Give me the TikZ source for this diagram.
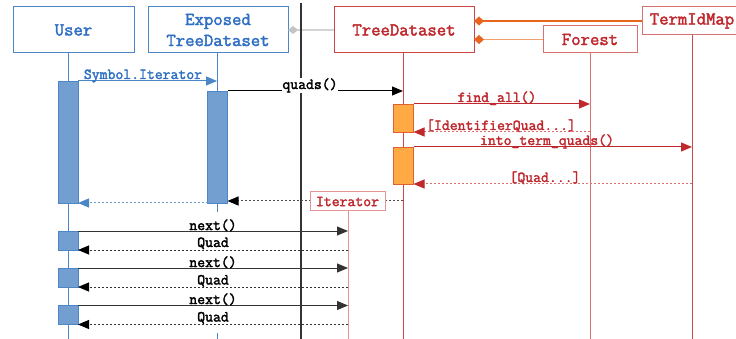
\documentclass[tikz,border=0pt]{standalone}
\usepackage{fontspec}
\setmonofont{Latin Modern Mono}[AutoFakeBold=2.2]
\usetikzlibrary{arrows.meta}
\definecolor{bbord}{HTML}{4A86C8}
\definecolor{btext}{HTML}{2F6FC4}
\definecolor{bfill}{HTML}{729FCF}
\definecolor{rbord}{HTML}{CC4444}
\definecolor{rtext}{HTML}{C0282D}
\definecolor{rline}{HTML}{C84848}
\definecolor{rlight}{HTML}{D87070}
\definecolor{rpink}{HTML}{E49494}
\definecolor{ofill}{HTML}{FFAA44}
\definecolor{obord}{HTML}{E06030}
\definecolor{odark}{HTML}{E8651E}
\definecolor{olight}{HTML}{F2A070}
\definecolor{gline}{HTML}{D4D4D4}
\definecolor{gdia}{HTML}{C4C4C4}
\begin{document}
\begin{tikzpicture}[x=1pt,y=-1pt,
  hdrfont/.style={font=\ttfamily\bfseries\fontsize{18.2}{21}\selectfont},
  msgfont/.style={font=\ttfamily\bfseries\fontsize{15.3}{17}\selectfont},
  hdrblue/.style={draw=bbord,line width=1pt,text=btext,hdrfont,inner sep=0pt,outer sep=0pt,fill=white},
  hdrred/.style={draw=rbord,line width=1pt,text=rtext,hdrfont,inner sep=0pt,outer sep=0pt,fill=white},
  actblue/.style={draw=bbord,fill=bfill,line width=0.8pt,inner sep=0pt,outer sep=0pt,minimum width=20pt},
  actorange/.style={draw=obord,fill=ofill,line width=0.8pt,inner sep=0pt,outer sep=0pt,minimum width=20pt},
  tip/.style={-{Triangle[length=11pt,width=9pt]}},
  lbl/.style={msgfont,anchor=base,inner sep=0pt},
  dotline/.style={dash pattern=on 2pt off 2pt}
]
\useasboundingbox (0,0) rectangle (736,339);
\clip (0,0) rectangle (736,339);

% lifeline coordinates
\coordinate (uL) at (68,53);   \coordinate (uLb) at (68,339);
\coordinate (eL) at (217,53);
\coordinate (tL) at (403,53);  \coordinate (tLb) at (403,339);
\coordinate (fL) at (590,53);  \coordinate (fLb) at (590,339);
\coordinate (mL) at (692,35);  \coordinate (mLb) at (692,339);
\coordinate (iL) at (348,211); \coordinate (iLb) at (348,339);
\coordinate (vT) at (301,3);   \coordinate (vB) at (301,339);

% lifelines
\draw[bbord,line width=1pt] (uL) -- (uLb);
\draw[bbord,line width=1pt] (eL) -- (217,91);
\draw[bbord,line width=1pt] (217,203) -- (217,212);
\draw[bbord,line width=1pt] (217,333) -- (217,339);
\draw[rline,line width=1pt] (tL) -- (tLb);
\draw[rlight,line width=1pt] (fL) -- (fLb);
\draw[rline,line width=1pt] (mL) -- (mLb);
\draw[rpink,line width=1pt] (iL) -- (iLb);

% header boxes
\node[hdrblue,minimum width=121pt,minimum height=46pt] (user) at (73.5,30) {User};
\node[hdrblue,minimum width=140pt,minimum height=46pt,align=center] (exp) at (218,30) {Exposed\\TreeDataset};
\node[hdrred,minimum width=140pt,minimum height=46pt] (tree) at (404,30) {TreeDataset};
\node[hdrred,draw=rlight,minimum width=94pt,minimum height=27pt] (forest) at (590,39.5) {Forest};
\node[hdrred,draw=rlight,minimum width=100pt,minimum height=28pt] (term) at (692,21) {TermIdMap};

% structural links
\draw[gline,line width=1.6pt,{Diamond[length=10pt,width=8pt,fill=gdia,color=gdia]}-] (exp.east) -- (tree.west);
\draw[odark,line width=1.2pt,{Diamond[length=10pt,width=9pt]}-] (tree.east |- term.west) -- (term.west);
\draw[olight,line width=1.2pt,{Diamond[length=10pt,width=9pt,color=odark]}-] (tree.east |- forest.west) -- (forest.west);

% separator
\draw[black!80,line width=1.8pt] (vT) -- (vB);

% activations
\node[actblue,minimum height=122pt] (uA) at (68,142) {};
\node[actblue,minimum height=112pt] (eA) at (217.5,147) {};
\node[actorange,minimum height=28pt] (tA1) at (403.5,118) {};
\node[actorange,minimum height=37pt] (tA2) at (403.5,165.5) {};
\node[actblue,minimum height=19pt] (uB1) at (68,240.5) {};
\node[actblue,minimum height=19pt] (uB2) at (68,277.5) {};
\node[actblue,minimum height=19pt] (uB3) at (68,315) {};

% messages
\draw[bbord,line width=1pt,tip] (uA.north east) -- (uA.north east -| eL);
\node[lbl,text=btext] (l1) at (143,79) {Symbol.Iterator};

\draw[black,line width=1pt,tip] (eA.north east) -- (eA.north east -| tL);
\node[lbl,fill=white,inner sep=0.5pt] (l2) at (310,89) {quads()};

\draw[rtext,line width=1pt,tip] (tA1.north east) -- (tA1.north east -| fL);
\node[lbl,text=rtext] (l3) at (497,102) {find\_all()};

\draw[rlight,line width=1pt,dotline,-{Triangle[length=11pt,width=9pt,color=rtext]}] (tA1.south east -| fL) -- (tA1.south east);
\node[lbl,text=rtext] (l4) at (501,130) {[IdentifierQuad...]};

\draw[rtext,line width=1pt,tip] (tA2.north east) -- (tA2.north east -| mL);
\node[lbl,text=rtext] (l5) at (547,145) {into\_term\_quads()};

\draw[rlight,line width=1pt,dotline,-{Triangle[length=11pt,width=9pt,color=rtext]}] (tA2.south east -| mL) -- (tA2.south east);
\node[lbl,text=rtext] (l6) at (545,182) {[Quad...]};

\coordinate (itR) at (403,201);
\draw[black!70,line width=1pt,dotline,-{Triangle[length=11pt,width=9pt,color=black]}] (itR) -- (itR -| eA.east);
\node[hdrred,draw=rpink,msgfont,minimum width=75pt,minimum height=19pt] (iter) at (347.5,201.5) {Iterator};

\draw[bbord!80,line width=1pt,dotline,-{Triangle[length=11pt,width=9pt,color=bbord]}] (eA.south west) -- (uA.south east);

% iterator calls
\foreach \b in {uB1,uB2,uB3}{
  \draw[black!80,line width=1pt,tip] (\b.north east) -- (\b.north east -| iL);
  \draw[black!80,line width=0.8pt,dotline,-{Triangle[length=11pt,width=9pt,color=black]}] (\b.south east -| iL) -- (\b.south east);
}
\node[lbl] (n1) at (213,230) {next()};
\node[lbl] (q1) at (213,247) {Quad};
\node[lbl] (n2) at (213,267) {next()};
\node[lbl] (q2) at (213,284.5) {Quad};
\node[lbl] (n3) at (213,304) {next()};
\node[lbl] (q3) at (213,321.5) {Quad};
\end{tikzpicture}
\end{document}
